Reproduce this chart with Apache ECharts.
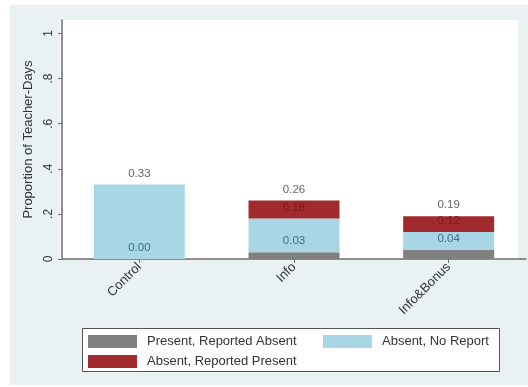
<!DOCTYPE html>
<html>
<head>
<meta charset="utf-8">
<script src="https://cdn.jsdelivr.net/npm/echarts@6/dist/echarts.min.js"></script>
<style>
  html, body { margin: 0; padding: 0; background: #ffffff; }
  #chart { width: 528px; height: 387px; }
</style>
</head>
<body>
<div id="chart"></div>
<script>
// Groups on the x axis
var categories = ['Control', 'Info', 'Info&Bonus'];

// Stacked segment shares of teacher-days (bottom to top)
var presentReportedAbsent = [0.00, 0.03, 0.04];
var absentNoReport        = [0.33, 0.15, 0.08];
var absentReportedPresent = [0.00, 0.08, 0.07];

var seriesNames = ['Present, Reported Absent', 'Absent, No Report', 'Absent, Reported Present'];

// Y tick values and their printed form
var yTicks = [0, 0.2, 0.4, 0.6, 0.8, 1];
var yTickLabels = ['0', '.2', '.4', '.6', '.8', '1'];

var FONT = 'Arial, "Liberation Sans", sans-serif';
var colors = ['#808080', '#a8d6e4', '#a02a2e'];

var stacks = [presentReportedAbsent, absentNoReport, absentReportedPresent];

// Running totals, printed on top of each segment
function cumulative(level, idx) {
  var s = 0;
  for (var k = 0; k <= level; k++) s += stacks[k][idx];
  return (Math.round(s * 100) / 100).toFixed(2);
}

var labelColors = ['#3d6f8a', '#7c1a1c', '#666666'];

var series = stacks.map(function (vals, level) {
  return {
    name: seriesNames[level],
    type: 'bar',
    stack: 'days',
    barWidth: 91,
    data: vals,
    itemStyle: { color: colors[level] },
    label: {
      show: true,
      position: 'top',
      distance: 5,
      fontFamily: FONT,
      fontSize: 11.5,
      color: labelColors[level],
      formatter: function (p) {
        // the middle label would sit on top of the total when nothing is stacked above it
        if (level === 1 && absentReportedPresent[p.dataIndex] === 0) return '';
        return cumulative(level, p.dataIndex);
      }
    }
  };
});

function legendAt(name, left, top) {
  return {
    data: [name],
    left: left,
    top: top,
    padding: 0,
    itemWidth: 49,
    itemHeight: 13,
    icon: 'rect',
    selectedMode: false,
    textStyle: { fontFamily: FONT, fontSize: 13, color: '#333333', padding: [0, 0, 0, 5] }
  };
}

var chart = echarts.init(document.getElementById('chart'), null, { renderer: 'canvas' });
chart.setOption({
  animation: false,
  backgroundColor: '#ffffff',
  graphic: {
    elements: [
      { type: 'rect', z: -30, shape: { x: 10, y: 5, width: 518, height: 380 },
        style: { fill: '#eaf1f2' } },
      { type: 'rect', z: -20, shape: { x: 60, y: 20, width: 458, height: 239 },
        style: { fill: '#ffffff' } },
      { type: 'rect', z: -10, shape: { x: 82.5, y: 328.5, width: 417, height: 43 },
        style: { fill: '#ffffff', stroke: '#555555', lineWidth: 1 } }
    ]
  },
  grid: { left: 62, right: 2, top: 20, bottom: 128, containLabel: false },
  xAxis: {
    type: 'category',
    data: categories,
    axisLine: { lineStyle: { color: '#6e6e6e', width: 1.5 } },
    axisTick: { show: true, alignWithLabel: true, length: 4, lineStyle: { color: '#6e6e6e' } },
    axisLabel: { rotate: 45, margin: 6, fontFamily: FONT, fontSize: 13, color: '#333333', interval: 0 }
  },
  yAxis: {
    type: 'value',
    min: 0,
    max: 1.06,
    name: 'Proportion of Teacher-Days',
    nameLocation: 'middle',
    nameGap: 25,
    nameRotate: 90,
    nameTextStyle: { fontFamily: FONT, fontSize: 13, color: '#333333' },
    axisLine: { show: true, lineStyle: { color: '#6e6e6e', width: 1.5 } },
    axisTick: { show: true, length: 4, customValues: yTicks, lineStyle: { color: '#6e6e6e' } },
    axisLabel: {
      rotate: 90,
      margin: 7,
      fontFamily: FONT,
      fontSize: 12,
      color: '#333333',
      customValues: yTicks,
      formatter: function (v) {
        var i = yTicks.findIndex(function (t) { return Math.abs(t - v) < 1e-6; });
        return i >= 0 ? yTickLabels[i] : '';
      }
    },
    splitLine: { show: false }
  },
  legend: [
    legendAt(seriesNames[0], 88, 335),
    legendAt(seriesNames[1], 323, 335),
    legendAt(seriesNames[2], 88, 355)
  ],
  series: series
});
</script>
</body>
</html>
